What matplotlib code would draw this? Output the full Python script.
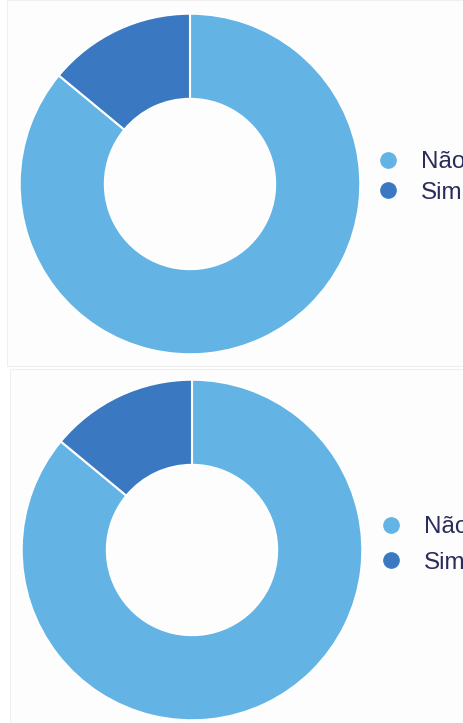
import matplotlib.pyplot as plt
from matplotlib.lines import Line2D
from matplotlib.patches import Rectangle

plt.rcParams["font.family"] = ["Liberation Sans", "DejaVu Sans"]

# Answer shares for the two questions (percent)
labels = ["Não", "Sim"]
top_values = [86, 14]
bottom_values = [86, 14]
colors = ["#63b4e4", "#3a79c2"]

W, H = 463, 723
fig = plt.figure(figsize=(W / 100, H / 100), dpi=100)
fig.patch.set_facecolor("white")


def px_box(left, top, width, height):
    """Pixel box (origin top-left) -> figure fraction rect."""
    return [left / W, 1 - (top + height) / H, width / W, height / H]


# faint panel frames behind each chart
for (x0, y0, x1, y1) in [(7, 0, 463, 366), (10, 369, 463, 723)]:
    fig.patches.append(Rectangle((x0 / W, 1 - y1 / H), (x1 - x0) / W, (y1 - y0) / H,
                                 transform=fig.transFigure, facecolor="#fdfdfd",
                                 edgecolor="#efefef", linewidth=0.8, zorder=-5))


def donut(values, cx, cy, r, legend_xy, spacing):
    ax = fig.add_axes(px_box(cx - r, cy - r, 2 * r, 2 * r))
    ax.set_zorder(1)
    ax.pie(values, colors=colors, startangle=90, counterclock=False, radius=1,
           wedgeprops=dict(width=0.5, edgecolor="white", linewidth=1.5))
    ax.set_xlim(-1.01, 1.01)
    ax.set_ylim(-1.01, 1.01)
    ax.set_aspect("auto")
    ax.axis("off")

    handles = [Line2D([], [], marker="o", linestyle="", markersize=11,
                      markerfacecolor=c, markeredgecolor=c) for c in colors]
    lx, ly = legend_xy
    leg = fig.legend(handles, labels, loc="upper left",
                     bbox_to_anchor=(lx / W, 1 - ly / H), bbox_transform=fig.transFigure,
                     frameon=False, fontsize=17.5, labelcolor="#2c2c5c",
                     handletextpad=0.85, labelspacing=spacing, borderaxespad=0,
                     borderpad=0, handlelength=1.0)
    leg.set_zorder(2)


donut(top_values, 190, 184, 172, (376, 151), 0.36)
donut(bottom_values, 192, 550, 172, (379, 516), 0.56)

plt.savefig("out.png", dpi=100)
